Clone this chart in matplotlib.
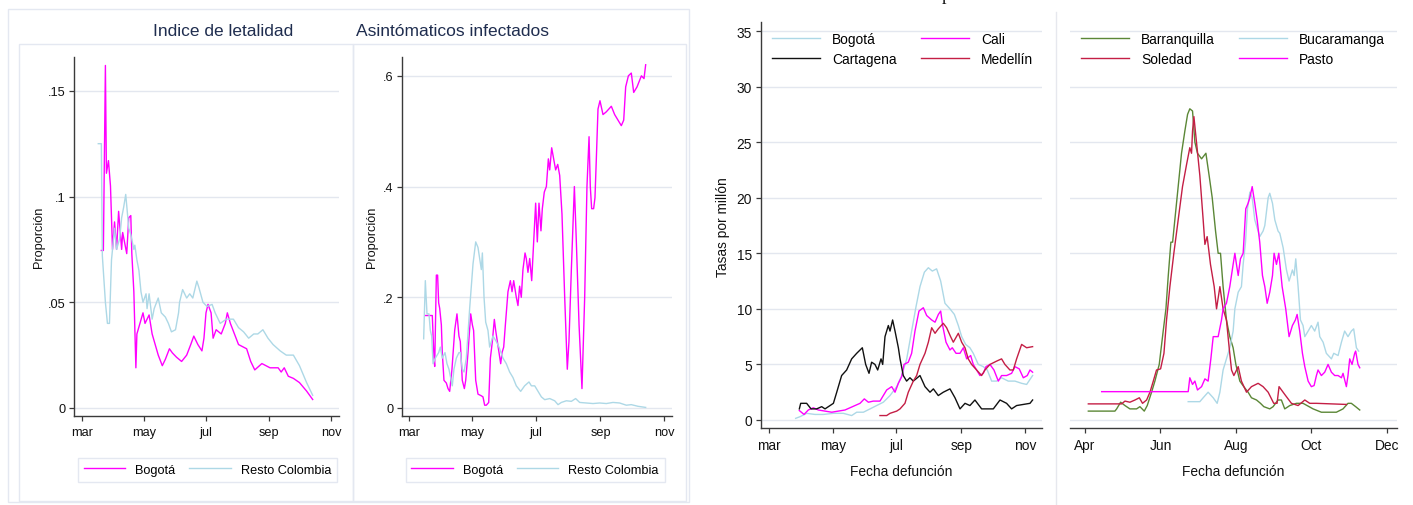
import numpy as np
import pandas as pd
import matplotlib
matplotlib.use("Agg")
import matplotlib.pyplot as plt
from matplotlib.patches import Rectangle
from matplotlib.lines import Line2D

plt.rcParams['font.family'] = ['Liberation Sans', 'DejaVu Sans']

W, H = 1413, 506

# ---------------- datos (días desde la fecha de inicio) ----------------
inicio_mar = pd.Timestamp("2020-03-01")
inicio_abr = pd.Timestamp("2020-04-01")

# Índice de letalidad
let_bog_dia = [19, 21, 23, 24, 26, 28, 30, 32, 34, 36, 39, 40, 44, 46, 48, 49, 51, 53, 54, 57,
               60, 62, 66, 69, 72, 75, 79, 82, 86, 89, 93, 98, 103, 107, 110, 114, 118, 120, 122, 124,
               127, 129, 132, 137, 141, 143, 146, 150, 154, 162, 166, 170, 177, 185, 193, 196, 199, 203, 208, 214,
               221, 227]
let_bog = [0.0745, 0.0745, 0.162, 0.111, 0.117, 0.105, 0.075, 0.088, 0.075, 0.093,
           0.075, 0.083, 0.073, 0.09, 0.091, 0.073, 0.055, 0.019, 0.035, 0.04,
           0.045, 0.04, 0.044, 0.035, 0.03, 0.025, 0.02, 0.023, 0.028, 0.026,
           0.024, 0.022, 0.025, 0.03, 0.034, 0.03, 0.027, 0.033, 0.045, 0.049,
           0.045, 0.033, 0.037, 0.035, 0.04, 0.045, 0.04, 0.035, 0.03, 0.028,
           0.022, 0.018, 0.021, 0.019, 0.019, 0.017, 0.019, 0.015, 0.014, 0.012,
           0.008, 0.004]
let_resto_dia = [16, 19, 20, 23, 25, 27, 29, 30, 32, 34, 37, 39, 41, 43, 46, 48, 51, 52, 54, 56,
                 58, 60, 63, 64, 66, 69, 71, 75, 78, 82, 85, 88, 92, 95, 96, 99, 103, 106, 109, 113,
                 115, 119, 123, 128, 131, 136, 142, 149, 154, 159, 164, 169, 173, 178, 183, 188, 195, 201, 208, 214,
                 221, 227]
let_resto = [0.125, 0.125, 0.072, 0.05, 0.04, 0.04, 0.07, 0.075, 0.085, 0.075,
             0.08, 0.09, 0.095, 0.101, 0.085, 0.082, 0.075, 0.077, 0.07, 0.065,
             0.055, 0.05, 0.054, 0.047, 0.054, 0.042, 0.047, 0.052, 0.045, 0.043,
             0.04, 0.036, 0.037, 0.045, 0.05, 0.056, 0.052, 0.054, 0.052, 0.06,
             0.057, 0.05, 0.048, 0.049, 0.045, 0.04, 0.042, 0.042, 0.038, 0.036,
             0.033, 0.035, 0.035, 0.037, 0.033, 0.03, 0.027, 0.025, 0.025, 0.02,
             0.012, 0.006]

# Asintomáticos infectados
asin_bog_dia = [16.0, 22.4, 24.0, 24.7, 26.3, 27.5, 28.5, 29.5, 31.1, 32.0,
                33.6, 35.9, 37.5, 39.1, 41.3, 43.9, 46.1, 48.0, 49.3, 51.2,
                53.2, 54.5, 56.7, 59.3, 60.9, 62.1, 64.1, 66.3, 69.5, 71.1,
                72.7, 74.3, 76.6, 78.2, 80.1, 82.0, 83.3, 84.9, 86.5, 88.1,
                89.4, 91.0, 92.6, 95.1, 97.4, 99.0, 100.6, 103.1, 104.7, 106.3,
                107.9, 109.5, 111.5, 112.7, 114.3, 116.0, 117.9, 119.8, 121.7, 123.3,
                124.9, 126.8, 128.1, 130.0, 132.0, 133.9, 135.2, 137.1, 139.0, 140.9,
                142.9, 144.8, 147.0, 149.6, 152.1, 153.7, 156.0, 158.9, 160.8, 163.4,
                166.2, 168.8, 171.0, 173.0, 174.2, 175.5, 177.4, 178.7, 180.0, 181.6,
                183.5, 186.4, 189.6, 194.4, 197.6, 200.8, 204.0, 206.3, 208.2, 210.8,
                213.6, 215.9, 219.1, 223.3, 225.8, 227.4]
asin_bog = [0.167, 0.167, 0.09, 0.075, 0.24, 0.24, 0.19, 0.18, 0.15, 0.1,
            0.05, 0.045, 0.035, 0.03, 0.07, 0.14, 0.17, 0.13, 0.12, 0.05,
            0.035, 0.05, 0.1, 0.17, 0.15, 0.14, 0.05, 0.025, 0.022, 0.02,
            0.005, 0.005, 0.01, 0.09, 0.12, 0.16, 0.14, 0.12, 0.1, 0.08,
            0.1, 0.11, 0.15, 0.21, 0.23, 0.21, 0.23, 0.2, 0.185, 0.22,
            0.2, 0.25, 0.28, 0.27, 0.245, 0.27, 0.23, 0.3, 0.37, 0.3,
            0.37, 0.32, 0.36, 0.39, 0.4, 0.45, 0.43, 0.47, 0.45, 0.43,
            0.44, 0.42, 0.35, 0.2, 0.07, 0.12, 0.25, 0.4, 0.3, 0.15,
            0.035, 0.2, 0.4, 0.49, 0.4, 0.36, 0.36, 0.38, 0.45, 0.54,
            0.555, 0.53, 0.535, 0.545, 0.53, 0.52, 0.51, 0.52, 0.58, 0.6,
            0.605, 0.57, 0.58, 0.6, 0.595, 0.62]
asin_resto_dia = [14.1, 15.7, 17.3, 19.2, 20.5, 21.8, 23.1, 25.3, 28.5, 30.1,
                  32.0, 34.6, 36.5, 38.4, 41.6, 43.2, 45.5, 48.0, 49.3, 51.2,
                  52.9, 55.1, 58.3, 61.5, 64.1, 66.3, 69.5, 70.5, 72.1, 73.7,
                  75.9, 77.5, 80.7, 83.9, 86.5, 90.3, 93.5, 96.7, 99.9, 103.1,
                  107.3, 111.1, 115.3, 117.6, 120.8, 124.0, 127.2, 130.4, 135.2, 140.0,
                  143.2, 146.4, 151.2, 156.0, 160.1, 164.0, 170.4, 176.8, 183.2, 189.6,
                  196.0, 202.4, 208.8, 213.6, 220.1, 227.4]
asin_resto = [0.125, 0.23, 0.17, 0.17, 0.14, 0.13, 0.08, 0.09, 0.1, 0.11,
              0.09, 0.1, 0.08, 0.07, 0.04, 0.07, 0.09, 0.1, 0.1, 0.07,
              0.065, 0.09, 0.18, 0.26, 0.3, 0.29, 0.25, 0.28, 0.2, 0.155,
              0.14, 0.11, 0.13, 0.12, 0.11, 0.09, 0.08, 0.065, 0.055, 0.04,
              0.03, 0.04, 0.047, 0.04, 0.04, 0.03, 0.02, 0.015, 0.017, 0.013,
              0.006, 0.01, 0.013, 0.012, 0.017, 0.01, 0.009, 0.008, 0.009, 0.008,
              0.01, 0.009, 0.005, 0.006, 0.003, 0.001]

# Tasas por millón (días desde el 1 de marzo)
tasa_bog_dia = [25.5, 29.7, 36.0, 44.0, 52.0, 61.6, 71.1, 79.1, 83.9, 90.3,
                96.7, 103.0, 109.4, 115.8, 122.2, 127.0, 131.8, 136.5, 140.7, 144.5,
                148.7, 152.5, 156.3, 160.4, 164.3, 168.4, 173.2, 177.4, 181.2, 184.4,
                188.2, 192.3, 195.5, 200.3, 205.1, 208.9, 213.1, 217.9, 222.6, 229.0,
                235.4, 241.8, 246.6, 252.3]
tasa_bog = [0.15, 0.3, 0.6, 0.5, 0.5, 0.6, 0.6, 0.4, 0.7, 0.7,
            1.0, 1.3, 1.6, 2.2, 3.0, 4.0, 5.5, 8.0, 10.2, 12.0,
            13.3, 13.7, 13.4, 13.6, 12.5, 10.5, 10.0, 9.5, 8.5, 7.5,
            6.8, 6.5, 6.0, 5.0, 4.8, 4.5, 3.5, 3.5, 3.8, 3.5,
            3.5, 3.3, 3.2, 4.0]
tasa_cali_dia = [29.0, 33.5, 37.6, 42.4, 47.2, 53.6, 60.0, 66.3, 72.7, 77.5,
                 82.3, 87.1, 91.2, 95.1, 99.8, 106.2, 109.4, 112.6, 117.4, 120.6,
                 123.8, 127.0, 129.2, 133.3, 136.5, 139.7, 143.5, 147.7, 150.9, 155.7,
                 158.9, 162.1, 164.3, 166.2, 169.4, 173.2, 175.4, 179.0, 182.8, 186.0,
                 189.2, 193.0, 195.5, 198.7, 201.9, 205.1, 207.7, 211.5, 215.3, 219.5,
                 222.6, 227.4, 232.2, 235.4, 239.5, 243.4, 247.2, 249.8, 252.3]
tasa_cali = [0.85, 0.5, 0.9, 1.1, 0.9, 0.8, 0.7, 0.8, 0.9, 1.1,
             1.3, 1.5, 1.9, 1.6, 1.7, 1.7, 2.2, 2.7, 3.0, 2.5,
             3.3, 3.9, 5.0, 5.2, 6.0, 8.0, 9.8, 10.1, 9.4, 9.0,
             8.8, 9.5, 9.8, 8.5, 7.0, 6.3, 6.5, 6.0, 6.0, 6.5,
             5.5, 5.8, 5.0, 4.5, 4.0, 4.2, 4.8, 5.0, 4.5, 3.5,
             4.0, 4.0, 4.2, 4.8, 4.6, 3.8, 4.0, 4.5, 4.3]
tasa_cart_dia = [29.0, 30.3, 36.0, 40.2, 45.6, 50.4, 53.6, 58.4, 61.6, 64.8,
                 69.5, 74.3, 79.1, 83.9, 89.3, 92.5, 95.7, 98.2, 101.4, 104.0,
                 107.2, 108.8, 111.0, 114.2, 115.8, 118.3, 120.6, 123.8, 125.4, 128.5,
                 131.7, 134.9, 138.1, 144.5, 149.3, 154.1, 157.3, 162.0, 166.8, 173.2,
                 178.0, 182.8, 187.6, 192.3, 197.1, 203.5, 214.7, 221.1, 227.4, 232.2,
                 237.0, 243.4, 249.8, 252.3]
tasa_cart = [1.0, 1.5, 1.5, 1.0, 1.0, 1.2, 1.0, 1.3, 1.5, 2.5,
             4.0, 4.5, 5.5, 6.0, 6.5, 5.0, 4.2, 5.2, 5.0, 4.5,
             5.5, 5.0, 7.5, 8.5, 8.0, 9.0, 8.0, 6.5, 5.5, 4.0,
             3.5, 3.8, 3.5, 4.0, 3.0, 2.5, 2.8, 2.2, 2.5, 2.8,
             2.0, 1.0, 1.5, 1.3, 1.8, 1.0, 1.0, 1.8, 1.5, 1.0,
             1.3, 1.4, 1.5, 1.8]
tasa_med_dia = [106.2, 112.6, 115.8, 122.2, 125.4, 130.1, 133.3, 138.1, 141.3, 144.5,
                149.3, 152.5, 155.7, 158.9, 162.0, 166.8, 170.0, 173.8, 176.4, 181.2,
                184.4, 187.6, 190.7, 193.9, 198.7, 203.5, 206.7, 211.5, 217.9, 222.6,
                225.8, 230.6, 233.8, 237.0, 241.8, 246.6, 252.3]
tasa_med = [0.4, 0.4, 0.6, 0.8, 1.0, 1.5, 2.5, 3.5, 4.0, 5.0,
            6.0, 7.0, 8.3, 7.8, 8.2, 8.7, 8.3, 7.5, 7.0, 7.8,
            7.0, 6.5, 5.5, 5.0, 4.5, 4.0, 4.5, 5.0, 5.3, 5.5,
            5.0, 4.5, 4.5, 5.5, 6.8, 6.5, 6.6]

# Tasas por millón (días desde el 1 de abril)
tasa_baq_dia = [2.7, 24.2, 25.6, 28.8, 32.3, 36.3, 41.7, 44.4, 47.9, 50.3,
                53.8, 56.5, 60.0, 63.2, 65.4, 67.3, 69.4, 70.8, 72.6, 75.3,
                78.0, 80.7, 82.9, 84.7, 86.9, 88.8, 90.9, 94.2, 97.7, 100.3,
                102.8, 105.5, 107.6, 109.5, 111.6, 114.3, 117.0, 119.7, 121.9, 125.1,
                128.3, 131.8, 134.5, 138.6, 141.8, 144.5, 149.3, 152.0, 156.0, 158.7,
                161.4, 165.5, 170.8, 176.2, 184.3, 191.0, 203.1, 208.5, 212.5, 215.2,
                218.7, 222.0]
tasa_baq = [0.8, 0.8, 1.0, 1.6, 1.3, 1.0, 1.0, 1.2, 0.8, 1.3,
            2.5, 3.5, 5.0, 8.0, 10.0, 13.0, 16.0, 16.0, 18.0, 21.0,
            24.0, 26.0, 27.5, 28.0, 27.8, 25.0, 24.0, 23.5, 24.0, 22.0,
            20.0, 17.0, 15.0, 15.0, 12.0, 9.0, 7.5, 6.5, 5.0, 3.5,
            3.0, 2.5, 2.0, 1.8, 1.5, 1.2, 1.0, 1.2, 1.8, 1.8,
            1.0, 1.3, 1.5, 1.5, 1.0, 0.7, 0.7, 1.0, 1.5, 1.5,
            1.2, 0.9]
tasa_sol_dia = [2.7, 29.6, 32.3, 36.3, 40.4, 43.9, 46.5, 49.8, 52.5, 55.2,
                57.8, 61.1, 63.8, 65.9, 68.6, 71.8, 75.3, 78.8, 82.1, 84.7,
                86.1, 86.9, 88.0, 90.1, 92.8, 95.5, 96.9, 98.7, 101.4, 104.4,
                106.3, 109.0, 111.6, 114.3, 116.5, 118.4, 120.3, 123.8, 126.4, 130.5,
                134.5, 139.9, 143.9, 148.0, 152.5, 155.2, 156.8, 161.4, 166.8, 172.2,
                177.6, 181.6, 187.0, 211.2]
tasa_sol = [1.45, 1.45, 1.7, 1.6, 1.8, 2.0, 1.5, 1.8, 2.5, 3.5,
            4.5, 4.6, 6.0, 9.0, 12.0, 15.0, 18.0, 21.0, 23.0, 24.5,
            24.0, 26.0, 27.3, 25.0, 22.0, 18.0, 15.8, 16.5, 14.0, 12.0,
            10.0, 12.0, 10.0, 9.0, 6.5, 4.5, 4.0, 4.8, 3.5, 2.5,
            3.0, 3.3, 3.0, 2.5, 1.5, 1.5, 3.0, 2.3, 1.5, 1.3,
            1.8, 1.5, 1.5, 1.4]
tasa_buc_dia = [83.4, 92.8, 95.5, 99.5, 103.6, 106.8, 109.0, 111.6, 114.3, 117.0,
                119.7, 121.1, 123.8, 126.4, 127.8, 129.7, 131.3, 133.2, 135.1, 137.2,
                139.9, 141.2, 143.9, 145.3, 148.0, 149.3, 151.5, 153.4, 156.0, 157.4,
                160.1, 162.8, 164.9, 167.6, 169.0, 170.3, 172.2, 174.1, 176.2, 177.6,
                180.3, 182.9, 185.6, 188.3, 189.7, 192.4, 195.0, 199.1, 201.0, 204.5,
                207.2, 209.8, 212.5, 215.2, 217.1, 219.3, 221.1]
tasa_buc = [1.65, 1.65, 2.0, 2.5, 2.0, 1.5, 2.5, 4.5, 5.5, 6.5,
            8.0, 10.0, 11.5, 12.0, 14.0, 16.0, 19.0, 20.5, 20.0, 18.0,
            17.0, 16.5, 17.0, 17.5, 20.0, 20.4, 19.5, 18.0, 17.0, 16.8,
            15.5, 13.5, 12.5, 13.5, 13.0, 14.5, 12.0, 9.0, 8.5, 7.5,
            8.0, 8.5, 8.0, 8.8, 7.5, 7.0, 6.0, 5.5, 6.0, 5.8,
            7.0, 8.0, 7.5, 8.0, 8.2, 6.5, 6.2]
tasa_pas_dia = [13.5, 83.4, 84.7, 86.9, 88.8, 90.9, 94.2, 96.9, 99.5, 101.7,
                103.6, 107.6, 110.3, 111.6, 114.3, 117.0, 119.7, 121.1, 122.4, 123.8,
                125.6, 127.8, 129.9, 131.8, 133.2, 135.1, 137.2, 139.1, 141.2, 143.4,
                145.3, 147.2, 149.3, 151.5, 152.8, 154.7, 156.6, 159.3, 162.2, 164.9,
                167.6, 170.0, 171.4, 173.5, 175.7, 177.6, 180.3, 182.9, 185.1, 187.0,
                188.3, 191.0, 193.7, 196.4, 199.1, 201.8, 204.5, 207.2, 208.5, 211.2,
                212.5, 213.9, 215.8, 217.9, 218.7, 220.6, 222.0]
tasa_pas = [2.55, 2.55, 3.8, 3.2, 3.5, 2.7, 3.0, 3.7, 3.5, 5.5,
            7.5, 7.5, 9.0, 10.0, 10.5, 12.0, 14.0, 15.0, 14.0, 13.0,
            14.5, 15.0, 19.0, 19.5, 20.0, 21.0, 19.5, 18.0, 16.0, 13.0,
            12.0, 10.5, 11.5, 13.0, 15.0, 14.0, 15.0, 12.0, 10.0, 7.5,
            8.5, 9.0, 9.5, 8.0, 6.0, 4.8, 3.5, 3.0, 3.1, 4.0,
            4.5, 4.0, 4.3, 5.0, 4.3, 4.0, 4.0, 3.8, 4.2, 3.0,
            4.0, 5.5, 5.0, 6.0, 6.2, 5.0, 4.7]

meses_izq = ["2020-03-01", "2020-05-01", "2020-07-01", "2020-09-01", "2020-11-01"]
etiq_izq = ["mar", "may", "jul", "sep", "nov"]
meses_der = ["2020-04-01", "2020-06-01", "2020-08-01", "2020-10-01", "2020-12-01"]
etiq_der = ["Apr", "Jun", "Aug", "Oct", "Dec"]

MAGENTA = "#ff00ff"
CELESTE = "#add8e6"
ROJO = "#c41e45"
VERDE = "#5b8736"
GRILLA = "#e3e7ef"
MARCO = "#e4e8f1"


def fechas(inicio, dias):
    return inicio + pd.to_timedelta(np.array(dias, dtype=float), unit="D")


def caja(x0, y0, x1, y1):
    # pixeles -> fracción de figura
    return [x0 / W, 1 - y1 / H, (x1 - x0) / W, (y1 - y0) / H]


def estilo(ax, inicio, xlim, ylim, ticks, etiquetas, fs, eje_y=True):
    ax.set_xlim(inicio + pd.Timedelta(days=xlim[0]), inicio + pd.Timedelta(days=xlim[1]))
    ax.set_ylim(*ylim)
    ax.set_facecolor("none")
    for s in ["top", "right"]:
        ax.spines[s].set_visible(False)
    ax.spines["left"].set_visible(eje_y)
    for s in ["left", "bottom"]:
        ax.spines[s].set_color("#3a3a3a")
        ax.spines[s].set_linewidth(1.0)
    ax.grid(axis="y", color=GRILLA, lw=1.0)
    ax.set_axisbelow(True)
    ax.set_xticks(pd.to_datetime(ticks))
    ax.set_xticklabels(etiquetas)
    ax.tick_params(axis="both", direction="out", length=3.6, width=0.9,
                   color="#3a3a3a", labelsize=fs, labelcolor="#111111")
    ax.tick_params(axis="x", pad=3.5)
    ax.tick_params(axis="y", pad=2.2)
    if not eje_y:
        ax.tick_params(axis="y", length=0, labelleft=False)


fig = plt.figure(figsize=(W / 100, H / 100), dpi=100)

# ---------------- figura izquierda (dos paneles) ----------------
fig.add_artist(Rectangle((8 / W, 1 - 503 / H), 681 / W, 493 / H, transform=fig.transFigure,
                         fill=False, ec=MARCO, lw=1.0))
fig.add_artist(Rectangle((19 / W, 1 - 502 / H), 334 / W, 457 / H, transform=fig.transFigure,
                         fill=False, ec=MARCO, lw=1.0))
fig.add_artist(Rectangle((353 / W, 1 - 502 / H), 333 / W, 457 / H, transform=fig.transFigure,
                         fill=False, ec=MARCO, lw=1.0))

fs_izq = 9.2
ax1 = fig.add_axes(caja(74, 58, 339, 417))
ax1.plot(fechas(inicio_mar, let_bog_dia), let_bog, color=MAGENTA, lw=1.0, label="Bogotá")
ax1.plot(fechas(inicio_mar, let_resto_dia), let_resto, color=CELESTE, lw=1.0, label="Resto Colombia")
estilo(ax1, inicio_mar, (-7.9, 252.9), (-0.0038, 0.166), meses_izq, etiq_izq, fs_izq)
ax1.set_yticks([0, 0.05, 0.1, 0.15])
ax1.set_yticklabels(["0", ".05", ".1", ".15"])

ax2 = fig.add_axes(caja(401.7, 58, 672, 417))
ax2.plot(fechas(inicio_mar, asin_bog_dia), asin_bog, color=MAGENTA, lw=1.0, label="Bogotá")
ax2.plot(fechas(inicio_mar, asin_resto_dia), asin_resto, color=CELESTE, lw=1.0, label="Resto Colombia")
estilo(ax2, inicio_mar, (-7.0, 252.7), (-0.0145, 0.634), meses_izq, etiq_izq, fs_izq)
ax2.set_yticks([0, 0.2, 0.4, 0.6])
ax2.set_yticklabels(["0", ".2", ".4", ".6"])

for ax, x_leg in [(ax1, 78), (ax2, 405.7)]:
    ax.legend(loc="upper left", bbox_to_anchor=(x_leg / W, 1 - 459 / H),
              bbox_transform=fig.transFigure, ncol=2, fontsize=fs_izq,
              frameon=True, fancybox=False, edgecolor=MARCO, framealpha=1,
              borderpad=0.45, borderaxespad=0, handlelength=3.25,
              handletextpad=0.8, columnspacing=1.05)

titulo = dict(fontsize=12.5, color="#1f2d4f", ha="center", va="baseline")
fig.text(223 / W, 1 - 36 / H, "Indice de letalidad", **titulo)
fig.text(453 / W, 1 - 36 / H, "Asintómaticos infectados", **titulo)
fig.text(39.5 / W, 1 - 237 / H, "Proporción", rotation=90, fontsize=fs_izq,
         ha="center", va="center", color="#111111")
fig.text(372 / W, 1 - 237 / H, "Proporción", rotation=90, fontsize=fs_izq,
         ha="center", va="center", color="#111111")

# ---------------- figura derecha (dos paneles) ----------------
fig.add_artist(Line2D([1056 / W, 1056 / W], [0, 1 - 13 / H], transform=fig.transFigure,
                      color="#e6e8ee", lw=1.0))
# resto del título, recortado por el borde superior como en la imagen original
fig.text(946 / W, 1 - 0.3 / H, "p", family=["Liberation Serif", "DejaVu Serif"],
         fontsize=13, ha="center", va="baseline", color="#111111")

fs_der = 9.9
ylim_der = (-0.72, 35.81)

ax3 = fig.add_axes(caja(761, 23, 1042, 429))
ax3.plot(fechas(inicio_mar, tasa_bog_dia), tasa_bog, color=CELESTE, lw=1.0, label="Bogotá")
ax3.plot(fechas(inicio_mar, tasa_cali_dia), tasa_cali, color=MAGENTA, lw=1.0, label="Cali")
ax3.plot(fechas(inicio_mar, tasa_cart_dia), tasa_cart, color="#111111", lw=1.0, label="Cartagena")
ax3.plot(fechas(inicio_mar, tasa_med_dia), tasa_med, color=ROJO, lw=1.0, label="Medellín")
estilo(ax3, inicio_mar, (-7.7, 261.3), ylim_der, meses_izq, etiq_izq, fs_der)
ax3.set_yticks(np.arange(0, 36, 5))
ax3.tick_params(axis="y", pad=3)

ax4 = fig.add_axes(caja(1070, 23, 1397, 429))
ax4.plot(fechas(inicio_abr, tasa_baq_dia), tasa_baq, color=VERDE, lw=1.0, label="Barranquilla")
ax4.plot(fechas(inicio_abr, tasa_buc_dia), tasa_buc, color=CELESTE, lw=1.0, label="Bucaramanga")
ax4.plot(fechas(inicio_abr, tasa_sol_dia), tasa_sol, color=ROJO, lw=1.0, label="Soledad")
ax4.plot(fechas(inicio_abr, tasa_pas_dia), tasa_pas, color=MAGENTA, lw=1.0, label="Pasto")
estilo(ax4, inicio_abr, (-12.1, 252.1), ylim_der, meses_der, etiq_der, fs_der, eje_y=False)
ax4.set_yticks(np.arange(0, 36, 5))

for ax, orden, x_leg in [(ax3, [0, 2, 1, 3], 772), (ax4, [0, 2, 1, 3], 1081)]:
    h, l = ax.get_legend_handles_labels()
    ax.legend([h[i] for i in orden], [l[i] for i in orden], loc="upper left",
              bbox_to_anchor=(x_leg / W, 1 - 33 / H), bbox_transform=fig.transFigure,
              ncol=2, fontsize=fs_der, frameon=False, borderpad=0, borderaxespad=0,
              handlelength=3.5, handletextpad=0.87, columnspacing=1.75, labelspacing=0.45)

fig.text(723 / W, 1 - 227 / H, "Tasas por millón", rotation=90, fontsize=fs_der,
         ha="center", va="center", color="#111111")
fig.text(901 / W, 1 - 476 / H, "Fecha defunción", fontsize=fs_der,
         ha="center", va="baseline", color="#111111")
fig.text(1233 / W, 1 - 476 / H, "Fecha defunción", fontsize=fs_der,
         ha="center", va="baseline", color="#111111")

fig.savefig("out.png", dpi=100)
